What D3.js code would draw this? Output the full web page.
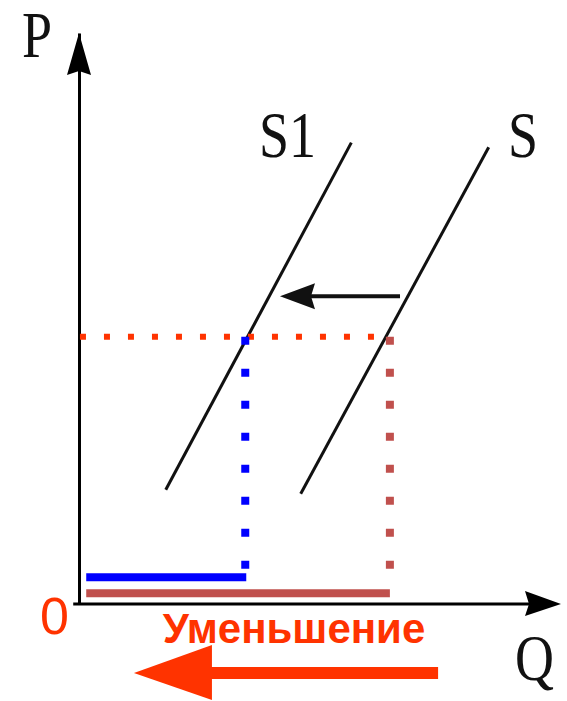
<!DOCTYPE html>
<html>
<head>
<meta charset="utf-8">
<script src="https://cdn.jsdelivr.net/npm/d3@7"></script>
<style>
  html, body { margin: 0; padding: 0; background: #fff; }
  svg { display: block; }
  .serif { font-family: "Liberation Serif", "Times New Roman", Times, "DejaVu Serif", serif; }
</style>
</head>
<body>
<div id="container"></div>
<script>
const width = 567;
const height = 701;

// supply curves (Q, P)
const supplyS1 = [{ q: 1.8, p: 2.0 }, { q: 5.65, p: 8.08 }];
const supplyS = [{ q: 4.6, p: 1.93 }, { q: 8.5, p: 8.0 }];
const curveLabels = ["S1", "S"];
const priceLevel = 4.68;
const qNew = 3.47;
const qOld = 6.45;
const shiftArrow = [{ q: 6.66, p: 5.39 }, { q: 4.17, p: 5.39 }];
const decreaseArrow = [{ q: 7.45, p: -1.21 }, { q: 1.14, p: -1.21 }];
const barLevels = { blue: 0.47, brown: 0.19 };
const decreaseText = "Уменьшение";

const red = "#ff3300";
const blue = "#0000ff";
const brown = "#c0504d";

let x = d3.scaleLinear().domain([0, 10]).range([79, 561]);
let y = d3.scaleLinear().domain([0, 10]).range([604, 33]);

let line = d3.line()
    .x(d => x(d.q))
    .y(d => y(d.p));

let svg = d3.select("#container").append("svg")
    .attr("width", width)
    .attr("height", height);

// axes (no ticks, just the lines)
svg.append("g")
    .attr("transform", `translate(${x(0)},0)`)
    .call(d3.axisLeft(y).ticks(0).tickSizeOuter(0))
    .call(g => g.select(".domain").attr("stroke", "#000").attr("stroke-width", 3));

svg.append("path")
    .attr("d", line([{ q: -0.12, p: 0 }, { q: 9.4, p: 0 }]))
    .attr("stroke", "#000")
    .attr("stroke-width", 3)
    .attr("fill", "none");

// axis arrow heads
let yTop = y.range()[1];
svg.append("path")
    .attr("d", `M${x(0)},${yTop} L${x(0) + 12},${yTop + 42} L${x(0)},${yTop + 38} L${x(0) - 12},${yTop + 42} Z`)
    .attr("fill", "#000");

let xEnd = x.range()[1];
svg.append("path")
    .attr("d", `M${xEnd},${y(0)} L${xEnd - 36},${y(0) + 12} L${xEnd - 32},${y(0)} L${xEnd - 36},${y(0) - 13} Z`)
    .attr("fill", "#000");

// supply curves
[supplyS1, supplyS].forEach(curve => {
    svg.append("path")
        .datum(curve)
        .attr("d", line)
        .attr("fill", "none")
        .attr("stroke", "#111")
        .attr("stroke-width", 3);
});

// shift arrow
svg.append("path")
    .attr("d", line([shiftArrow[0], { q: shiftArrow[1].q + 0.6, p: shiftArrow[1].p }]))
    .attr("stroke", "#111")
    .attr("stroke-width", 4)
    .attr("fill", "none");
let sx = x(shiftArrow[1].q), sy = y(shiftArrow[1].p);
svg.append("path")
    .attr("d", `M${sx},${sy} L${sx + 35},${sy - 13} L${sx + 31},${sy} L${sx + 35},${sy + 13} Z`)
    .attr("fill", "#111");

// dotted guide lines
svg.append("path")
    .attr("d", line([{ q: 0.02, p: priceLevel }, { q: qOld, p: priceLevel }]))
    .attr("stroke", red)
    .attr("stroke-width", 6)
    .attr("stroke-dasharray", "6 18")
    .attr("fill", "none");

svg.append("path")
    .attr("d", `M${x(qNew) - 1},${y(priceLevel)} L${x(qNew) - 1},${y(barLevels.blue + 0.1)}`)
    .attr("stroke", blue)
    .attr("stroke-width", 8)
    .attr("stroke-dasharray", "8 24")
    .attr("fill", "none");

svg.append("path")
    .attr("d", `M${x(qOld)},${y(priceLevel)} L${x(qOld)},${y(barLevels.blue + 0.1)}`)
    .attr("stroke", brown)
    .attr("stroke-width", 8)
    .attr("stroke-dasharray", "8 24")
    .attr("fill", "none");

// quantity bars
svg.append("path")
    .attr("d", line([{ q: 0.15, p: barLevels.blue }, { q: qNew, p: barLevels.blue }]))
    .attr("stroke", blue)
    .attr("stroke-width", 8)
    .attr("fill", "none");

svg.append("path")
    .attr("d", line([{ q: 0.15, p: barLevels.brown }, { q: qOld, p: barLevels.brown }]))
    .attr("stroke", brown)
    .attr("stroke-width", 8)
    .attr("fill", "none");

// big red arrow
let ax = x(decreaseArrow[1].q), ay = y(decreaseArrow[1].p);
svg.append("path")
    .attr("d", line([decreaseArrow[0], { q: decreaseArrow[1].q + 1.5, p: decreaseArrow[1].p }]))
    .attr("stroke", red)
    .attr("stroke-width", 12)
    .attr("fill", "none");
svg.append("path")
    .attr("d", `M${ax},${ay} L${ax + 78},${ay - 28} L${ax + 78},${ay + 27} Z`)
    .attr("fill", red);

// labels
function serifLabel(text, tx, ty) {
    svg.append("text")
        .attr("class", "serif")
        .attr("transform", `translate(${tx},${ty}) scale(1,1.2)`)
        .attr("font-size", 54)
        .attr("fill", "#111")
        .text(text);
}
serifLabel("P", 22, 57);
serifLabel(curveLabels[0], 259, 157);
serifLabel(curveLabels[1], 508, 157);
serifLabel("Q", 515, 680);

svg.append("text")
    .attr("x", 40)
    .attr("y", 634)
    .attr("font-family", "'Liberation Sans', Arial, sans-serif")
    .attr("font-size", 52)
    .attr("fill", red)
    .text("0");

svg.append("text")
    .attr("x", 294)
    .attr("y", 643)
    .attr("text-anchor", "middle")
    .attr("font-family", "'Liberation Sans', Arial, sans-serif")
    .attr("font-weight", "bold")
    .attr("font-size", 42)
    .attr("fill", red)
    .text(decreaseText);
</script>
</body>
</html>
